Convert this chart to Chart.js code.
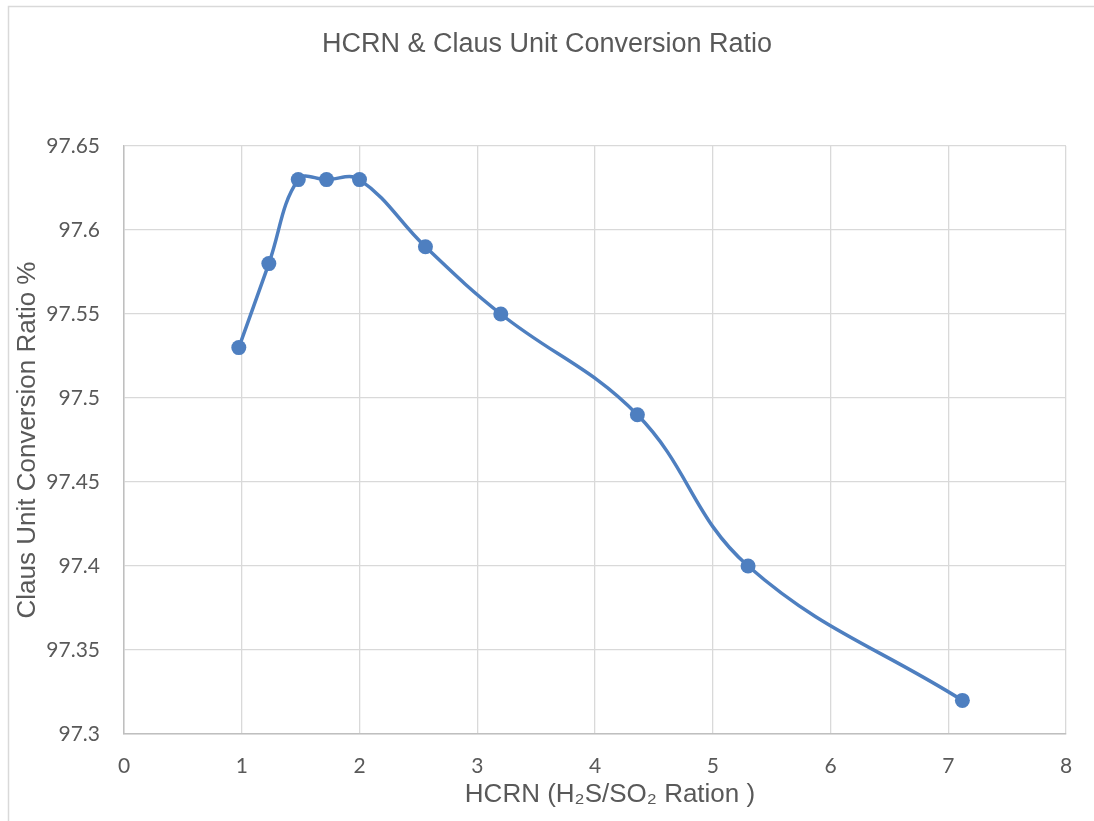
<!DOCTYPE html>
<html>
<head>
<meta charset="utf-8">
<script src="https://cdn.jsdelivr.net/npm/chart.js@4"></script>
<style>
  html, body { margin: 0; padding: 0; background: #ffffff; overflow: hidden; }
  #wrap { width: 1094px; height: 821px; position: relative; }
</style>
</head>
<body>
<div id="wrap"><canvas id="c" width="1094" height="821"></canvas></div>
<script>
// ---- data ----
const chartTitle = "HCRN & Claus Unit Conversion Ratio";
const xAxisTitle = "HCRN (H\u2082S/SO\u2082 Ration )";
const yAxisTitle = "Claus Unit Conversion Ratio %";
const hcrn = [0.975, 1.23, 1.48, 1.72, 2.0, 2.56, 3.2, 4.36, 5.3, 7.12];
const conversion = [97.53, 97.58, 97.63, 97.63, 97.63, 97.59, 97.55, 97.49, 97.40, 97.32];
const xTicks = [0, 1, 2, 3, 4, 5, 6, 7, 8];
const yTicks = [97.3, 97.35, 97.4, 97.45, 97.5, 97.55, 97.6, 97.65];

const points = hcrn.map((x, i) => ({ x: x, y: conversion[i] }));

const frame = {
  id: 'frame',
  beforeDraw(chart) {
    const ctx = chart.ctx;
    ctx.save();
    ctx.fillStyle = '#ffffff';
    ctx.fillRect(0, 0, chart.width, chart.height);
    ctx.strokeStyle = '#d9d9d9';
    ctx.lineWidth = 1.5;
    ctx.beginPath();
    ctx.moveTo(8.5, chart.height);
    ctx.lineTo(8.5, 6.5);
    ctx.lineTo(chart.width, 6.5);
    ctx.stroke();
    ctx.restore();
  }
};

const tickColor = '#595959';
const tickFont = { family: 'Lato, "Open Sans", sans-serif', size: 21 };
const titleFontFamily = '"Liberation Sans", Arial, sans-serif';

new Chart(document.getElementById('c'), {
  type: 'scatter',
  data: {
    datasets: [{
      data: points,
      showLine: true,
      borderColor: '#4e7fc0',
      backgroundColor: '#4e7fc0',
      borderWidth: 3.5,
      pointRadius: 7.5,
      pointHoverRadius: 7.5,
      pointBorderWidth: 0,
      tension: 0.4,
      cubicInterpolationMode: 'default'
    }]
  },
  options: {
    responsive: false,
    animation: false,
    devicePixelRatio: 1,
    layout: { padding: { left: 0, right: 0, top: 0, bottom: 0 } },
    plugins: {
      legend: { display: false },
      tooltip: { enabled: false },
      title: {
        display: true,
        text: chartTitle,
        color: '#595959',
        font: { family: titleFontFamily, size: 27, weight: 'normal', lineHeight: 1.2 },
        padding: { top: 28.5, bottom: 85.1 }
      }
    },
    scales: {
      x: {
        type: 'linear',
        min: 0,
        max: 8,
        afterBuildTicks(scale) { scale.ticks = xTicks.map(v => ({ value: v })); },
        afterFit(scale) {
          scale.height = 87;
          if (!scale._shifted) {
            const orig = scale.drawTitle;
            scale.drawTitle = function () {
              const ctx = this.ctx;
              ctx.save();
              ctx.translate(15, 0);
              orig.apply(this, arguments);
              ctx.restore();
            };
            scale._shifted = true;
          }
        },
        ticks: {
          color: tickColor,
          font: tickFont,
          padding: 20,
          callback: (v) => String(v)
        },
        grid: { color: '#d9d9d9', lineWidth: 1.3, drawTicks: false },
        border: { color: '#bfbfbf', width: 1.5 },
        title: {
          display: true,
          text: xAxisTitle,
          color: '#595959',
          font: { family: titleFontFamily, size: 26, lineHeight: 1.2 },
          padding: { top: 0, bottom: 10.4 }
        }
      },
      y: {
        type: 'linear',
        min: 97.3,
        max: 97.65,
        afterBuildTicks(scale) { scale.ticks = yTicks.map(v => ({ value: v })); },
        afterFit(scale) { scale.width = 124; },
        ticks: {
          color: tickColor,
          font: tickFont,
          padding: 24,
          callback: (v) => String(Math.round(v * 100) / 100)
        },
        grid: { color: '#d9d9d9', lineWidth: 1.3, drawTicks: false },
        border: { color: '#bfbfbf', width: 1.5 },
        title: {
          display: true,
          text: yAxisTitle,
          color: '#595959',
          font: { family: titleFontFamily, size: 26, lineHeight: 1.2 },
          padding: { top: 12.4, bottom: 0 }
        }
      },
      spacer: {
        type: 'linear',
        position: 'right',
        display: true,
        min: 0,
        max: 1,
        afterFit(scale) { scale.width = 28; },
        ticks: { display: false },
        grid: { display: false, drawOnChartArea: false },
        border: { display: false },
        title: { display: false }
      }
    }
  },
  plugins: [frame]
});
</script>
</body>
</html>
